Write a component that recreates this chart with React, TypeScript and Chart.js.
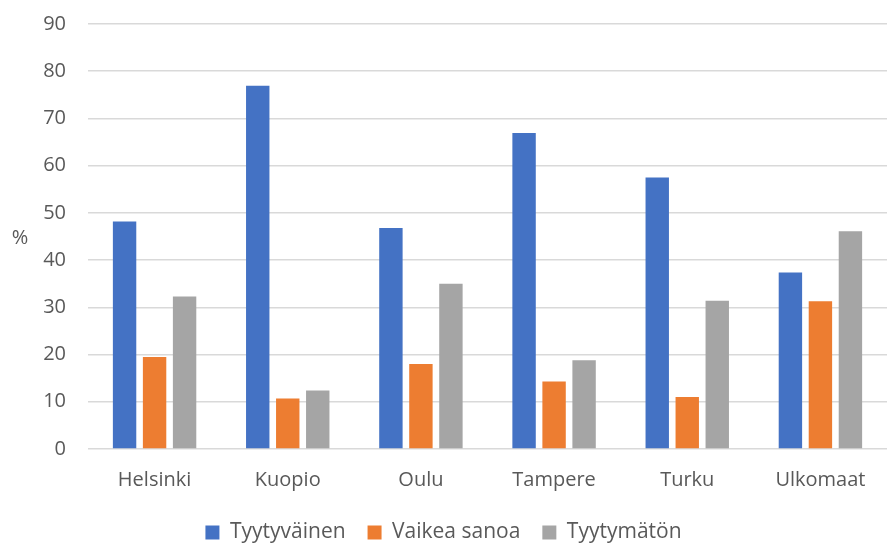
import React, { useEffect, useRef } from "react";
import { Chart, registerables } from "chart.js";

Chart.register(...registerables);

const categories = ["Helsinki", "Kuopio", "Oulu", "Tampere", "Turku", "Ulkomaat"];
const seriesNames = ["Tyytyväinen", "Vaikea sanoa", "Tyytymätön"];
const tyytyvainen = [48.2, 76.9, 46.8, 66.9, 57.5, 37.4];
const vaikeaSanoa = [19.5, 10.7, 18.0, 14.3, 11.0, 31.3];
const tyytymaton = [32.3, 12.4, 35.0, 18.8, 31.4, 46.1];
const colors = ["#4472C4", "#ED7D31", "#A5A5A5"];
const yMin = 0;
const yMax = 90;
const yStep = 10;
const yTitle = "%";

const FONT = "'Open Sans', 'Liberation Sans', sans-serif";
const TEXT = "#595959";

const yTitlePlugin = {
  id: "yTitlePlugin",
  afterDraw(chart: any) {
    const { ctx, chartArea } = chart;
    ctx.save();
    ctx.fillStyle = TEXT;
    ctx.font = `20px ${FONT}`;
    ctx.textAlign = "center";
    ctx.textBaseline = "middle";
    ctx.fillText(yTitle, 20, (chartArea.top + chartArea.bottom) / 2 + 2);
    ctx.restore();
  },
};

export default function App() {
  const ref = useRef<HTMLCanvasElement | null>(null);
  useEffect(() => {
    if (!ref.current) return;
    const data = [tyytyvainen, vaikeaSanoa, tyytymaton];
    const chart = new Chart(ref.current, {
      type: "bar",
      data: {
        labels: categories,
        datasets: seriesNames.map((name, i) => ({
          label: name,
          data: data[i],
          backgroundColor: colors[i],
          borderWidth: 0,
          categoryPercentage: 0.676,
          barPercentage: 0.78,
        })),
      },
      plugins: [yTitlePlugin],
      options: {
        animation: false,
        responsive: false,
        maintainAspectRatio: false,
        layout: { padding: { top: 24, right: 0, left: 0, bottom: -10 } },
        plugins: {
          tooltip: { enabled: false },
          legend: {
            position: "bottom",
            labels: {
              color: TEXT,
              font: { family: FONT, size: 21 },
              boxWidth: 14,
              boxHeight: 14,
              padding: 22,
            },
          },
        },
        scales: {
          x: {
            grid: { display: false, drawTicks: false },
            border: { display: false },
            ticks: {
              color: TEXT,
              font: { family: FONT, size: 20 },
              padding: 19,
            },
            afterFit: (s: any) => {
              s.height = 51;
            },
          },
          y: {
            min: yMin,
            max: yMax,
            grid: { color: "#D9D9D9", lineWidth: 1.5, drawTicks: false },
            border: { display: false },
            ticks: {
              stepSize: yStep,
              color: TEXT,
              font: { family: FONT, size: 20 },
              padding: 22,
            },
            afterFit: (s: any) => {
              s.width = 88;
              s.paddingTop = 0;
              s.paddingBottom = 0;
            },
          },
        },
      },
    });
    return () => chart.destroy();
  }, []);
  return (
    <div style={{ position: "absolute", left: 0, top: 0, width: 887, height: 543, background: "#fff" }}>
      <canvas ref={ref} width={887} height={543} style={{ display: "block" }} />
    </div>
  );
}
